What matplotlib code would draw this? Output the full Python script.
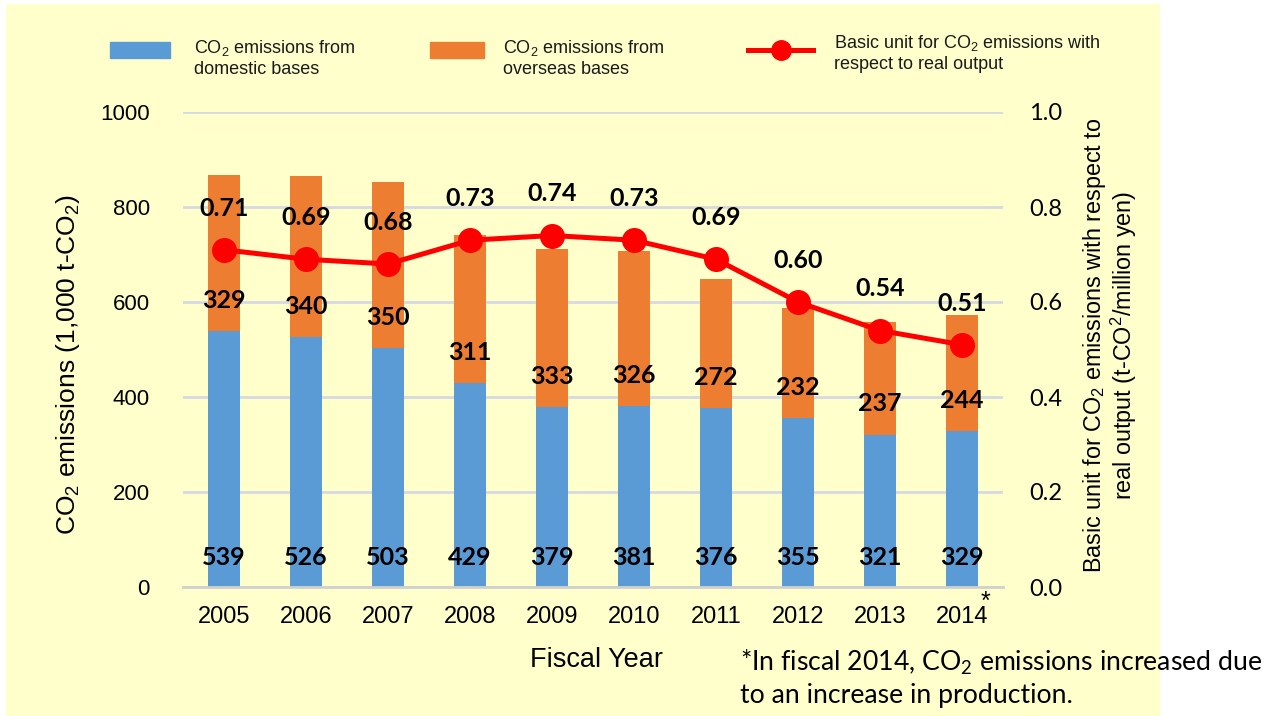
import matplotlib
matplotlib.use('Agg')
import matplotlib.pyplot as plt
from matplotlib.patches import Rectangle
from matplotlib.lines import Line2D

plt.rcParams['mathtext.default'] = 'regular'

# data
years = ['2005', '2006', '2007', '2008', '2009', '2010', '2011', '2012', '2013', '2014']
domestic = [539, 526, 503, 429, 379, 381, 376, 355, 321, 329]
overseas = [329, 340, 350, 311, 333, 326, 272, 232, 237, 244]
basic_unit = [0.71, 0.69, 0.68, 0.73, 0.74, 0.73, 0.69, 0.60, 0.54, 0.51]
left_ticks = [0, 200, 400, 600, 800, 1000]
right_ticks = [0.0, 0.2, 0.4, 0.6, 0.8, 1.0]

BLUE = '#5B9BD5'
ORANGE = '#ED7D31'
RED = '#FF0000'
BG = '#FFFFCC'
GRID = '#D6D8E2'

W, H = 1271, 716
fig = plt.figure(figsize=(W / 100, H / 100), dpi=100)
fig.patch.set_facecolor('white')

# yellow panel behind the chart (stops short of the right edge)
fig.add_artist(Rectangle((6 / W, 0), (1160 - 6) / W, (H - 4) / H,
                         transform=fig.transFigure, facecolor=BG,
                         edgecolor='none', zorder=0))

ax = fig.add_axes([183 / W, 1 - 587 / H, (1003 - 183) / W, (587 - 112) / H])
ax.set_facecolor('none')
ax2 = ax.twinx()

x = list(range(len(years)))
ax.bar(x, domestic, width=0.4, color=BLUE, zorder=2)
ax.bar(x, overseas, width=0.4, bottom=domestic, color=ORANGE, zorder=2)
ax2.plot(x, basic_unit, color=RED, lw=3.6, marker='o', ms=17, zorder=3)

ax.set_xlim(-0.5, 9.5)
ax.set_ylim(0, 1000)
ax2.set_ylim(0, 1.0)
ax.set_yticks(left_ticks)
ax2.set_yticks(right_ticks)
ax2.set_yticklabels([f'{t:.1f}' for t in right_ticks])
ax.set_xticks(x)
ax.set_xticklabels(years)
ax.grid(axis='y', color=GRID, lw=2, zorder=0)
ax.set_axisbelow(True)

for a in (ax, ax2):
    for s in ('top', 'left', 'right'):
        a.spines[s].set_visible(False)
    a.spines['bottom'].set_color('#D0D0D0')
    a.spines['bottom'].set_linewidth(2)
ax2.spines['bottom'].set_visible(False)

ax.tick_params(axis='both', length=0)
ax2.tick_params(axis='y', length=0)
ax.tick_params(axis='y', pad=24, labelsize=16)
ax.tick_params(axis='x', pad=14, labelsize=17)
ax2.tick_params(axis='y', pad=19, labelsize=17)
for lab in ax.get_yticklabels() + ax.get_xticklabels():
    lab.set_family('Liberation Sans')
for lab in ax2.get_yticklabels():
    lab.set_family('Lato')

# data labels
lab_kw = dict(textcoords='offset points', ha='center', va='center',
              fontsize=18, fontweight='bold', family='Lato', zorder=5)
for i in x:
    ax.annotate(str(domestic[i]), xy=(i, 0), xytext=(0, 21), **lab_kw)
    ax.annotate(str(overseas[i]), xy=(i, domestic[i]), xytext=(0, 22), **lab_kw)
    ax2.annotate(f'{basic_unit[i]:.2f}', xy=(i, basic_unit[i]), xytext=(0, 30), **lab_kw)

ax.annotate('*', xy=(9, 0), textcoords='offset points',
            xytext=(17, -2), ha='center', va='top', fontsize=18, family='Liberation Sans')

# axis titles
fig.text(68 / W, 1 - 365 / H, 'CO$_2$ emissions (1,000 t-CO$_2$)', rotation=90,
         ha='center', va='center', fontsize=19, family='Liberation Sans')
fig.text(1110 / W, 1 - 345 / H,
         'Basic unit for CO$_2$ emissions with respect to\nreal output (t-CO$^2$/million yen)',
         rotation=90, ha='center', va='center', fontsize=16.8, family='Liberation Sans',
         multialignment='center', linespacing=1.0)
fig.text(597 / W, 1 - 660 / H, 'Fiscal Year', ha='center', va='center',
         fontsize=19.5, family='Liberation Sans')

# legend drawn by hand to match the layout
fig.add_artist(Rectangle((110 / W, 1 - 58 / H), 60 / W, 16 / H,
                         transform=fig.transFigure, color=BLUE))
fig.add_artist(Rectangle((430 / W, 1 - 58 / H), 54 / W, 16 / H,
                         transform=fig.transFigure, color=ORANGE))
fig.add_artist(Line2D([748 / W, 813 / W], [1 - 50 / H, 1 - 50 / H],
                      transform=fig.transFigure, color=RED, lw=3.6))
fig.add_artist(Line2D([781 / W], [1 - 50 / H], transform=fig.transFigure,
                      color=RED, marker='o', ms=14))
leg_kw = dict(ha='left', va='top', fontsize=13, family='Liberation Sans',
              linespacing=1.2, color='#1a1a1a')
fig.text(194 / W, 1 - 38 / H, 'CO$_2$ emissions from\ndomestic bases', **leg_kw)
fig.text(503 / W, 1 - 38 / H, 'CO$_2$ emissions from\noverseas bases', **leg_kw)
fig.text(834 / W, 1 - 33 / H, 'Basic unit for CO$_2$ emissions with\nrespect to real output',
         **leg_kw)

# footnote
fig.text(740 / W, 1 - 648 / H,
         '*In fiscal 2014, CO$_2$ emissions increased due\nto an increase in production.',
         ha='left', va='top', fontsize=19.2, family='Lato', linespacing=1.3)

fig.savefig('out.png', dpi=100, facecolor=fig.get_facecolor())
